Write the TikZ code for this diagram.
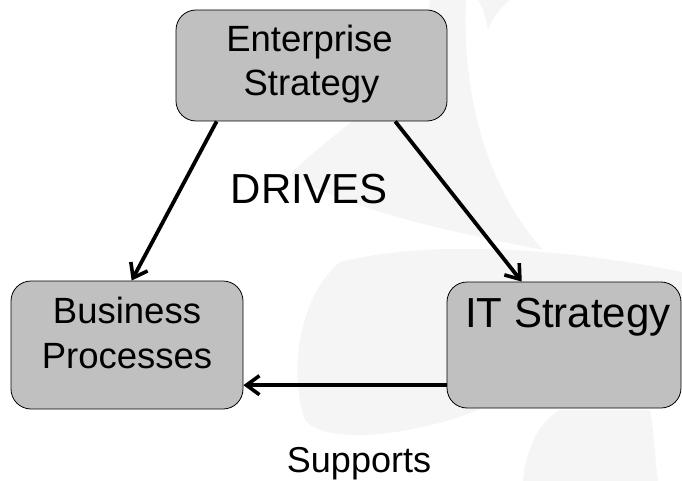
\documentclass[tikz,border=0pt]{standalone}
\usepackage{fontspec}
\setmainfont{Liberation Sans}
\usetikzlibrary{arrows.meta,calc}
\definecolor{boxgray}{RGB}{192,192,192}
\definecolor{wmgray}{RGB}{245,245,245}
\begin{document}
\begin{tikzpicture}[x=1pt,y=-1pt,
  box/.style={draw=black, line width=0.8pt, fill=boxgray, rounded corners=20pt, inner sep=0pt},
  lbl/.style={anchor=base, inner sep=0pt, font=\fontsize{36.5}{40}\selectfont},
  big/.style={anchor=base, inner sep=0pt, font=\fontsize{42}{46}\selectfont},
  arr/.style={line width=3.8pt, -{Straight Barb[length=13pt,width=19pt,line width=3.6pt]}},
  wm/.style={fill=wmgray}]
\useasboundingbox (0,0) rectangle (682,481);
% faint watermark
\fill[wm] (478,0) -- (510,0) .. controls (500,8) and (492,18) .. (488,30) .. controls (486,18) and (483,8) .. cycle;
\fill[wm] (430,0) -- (466,0) .. controls (462,80) and (480,180) .. (543,250) .. controls (470,235) and (360,215) .. (290,175) .. controls (330,130) and (420,90) .. cycle;
\fill[wm] (340,262) .. controls (450,235) and (600,255) .. (682,272) -- (682,300) .. controls (600,330) and (520,400) .. (450,420) .. controls (380,440) and (320,440) .. (305,420) .. controls (290,380) and (295,300) .. cycle;
\fill[wm] (523,481) .. controls (525,450) and (540,420) .. (560,410) -- (650,410) .. controls (655,440) and (655,460) .. (658,481) -- cycle;
% boxes
\node[box, minimum width=271pt, minimum height=111pt] (es) at (311.5,65.5) {};
\node[box, minimum width=232pt, minimum height=128pt] (bp) at (127,345) {};
\node[box, minimum width=234pt, minimum height=126pt] (it) at (564,345) {};
% texts
\node[lbl] (es1) at ($(es.north)+(-2,42)$) {Enterprise};
\node[lbl] (es2) at ($(es.north)+(0,86)$) {Strategy};
\node[lbl] (bp1) at ($(bp.north)+(0,43)$) {Business};
\node[lbl] (bp2) at ($(bp.north)+(0,88)$) {Processes};
\node[big] (it1) at ($(it.north)+(4,46)$) {IT Strategy};
\node[big] (drv) at (309,203) {DRIVES};
\node[anchor=base, inner sep=0pt, font=\fontsize{36}{40}\selectfont] (sup) at (359,472) {Supports};
% connectors
\draw[arr] ($(es.south west)!0.151!(es.south east)$) -- ($(bp.north west)!0.52!(bp.north east)$);
\draw[arr] ($(es.south west)!0.808!(es.south east)$) -- ($(it.north west)!0.32!(it.north east)$);
\coordinate (s0) at ($(it.north west)!0.817!(it.south west)$);
\draw[arr] (s0) -- (s0 -| bp.east);
\end{tikzpicture}
\end{document}
